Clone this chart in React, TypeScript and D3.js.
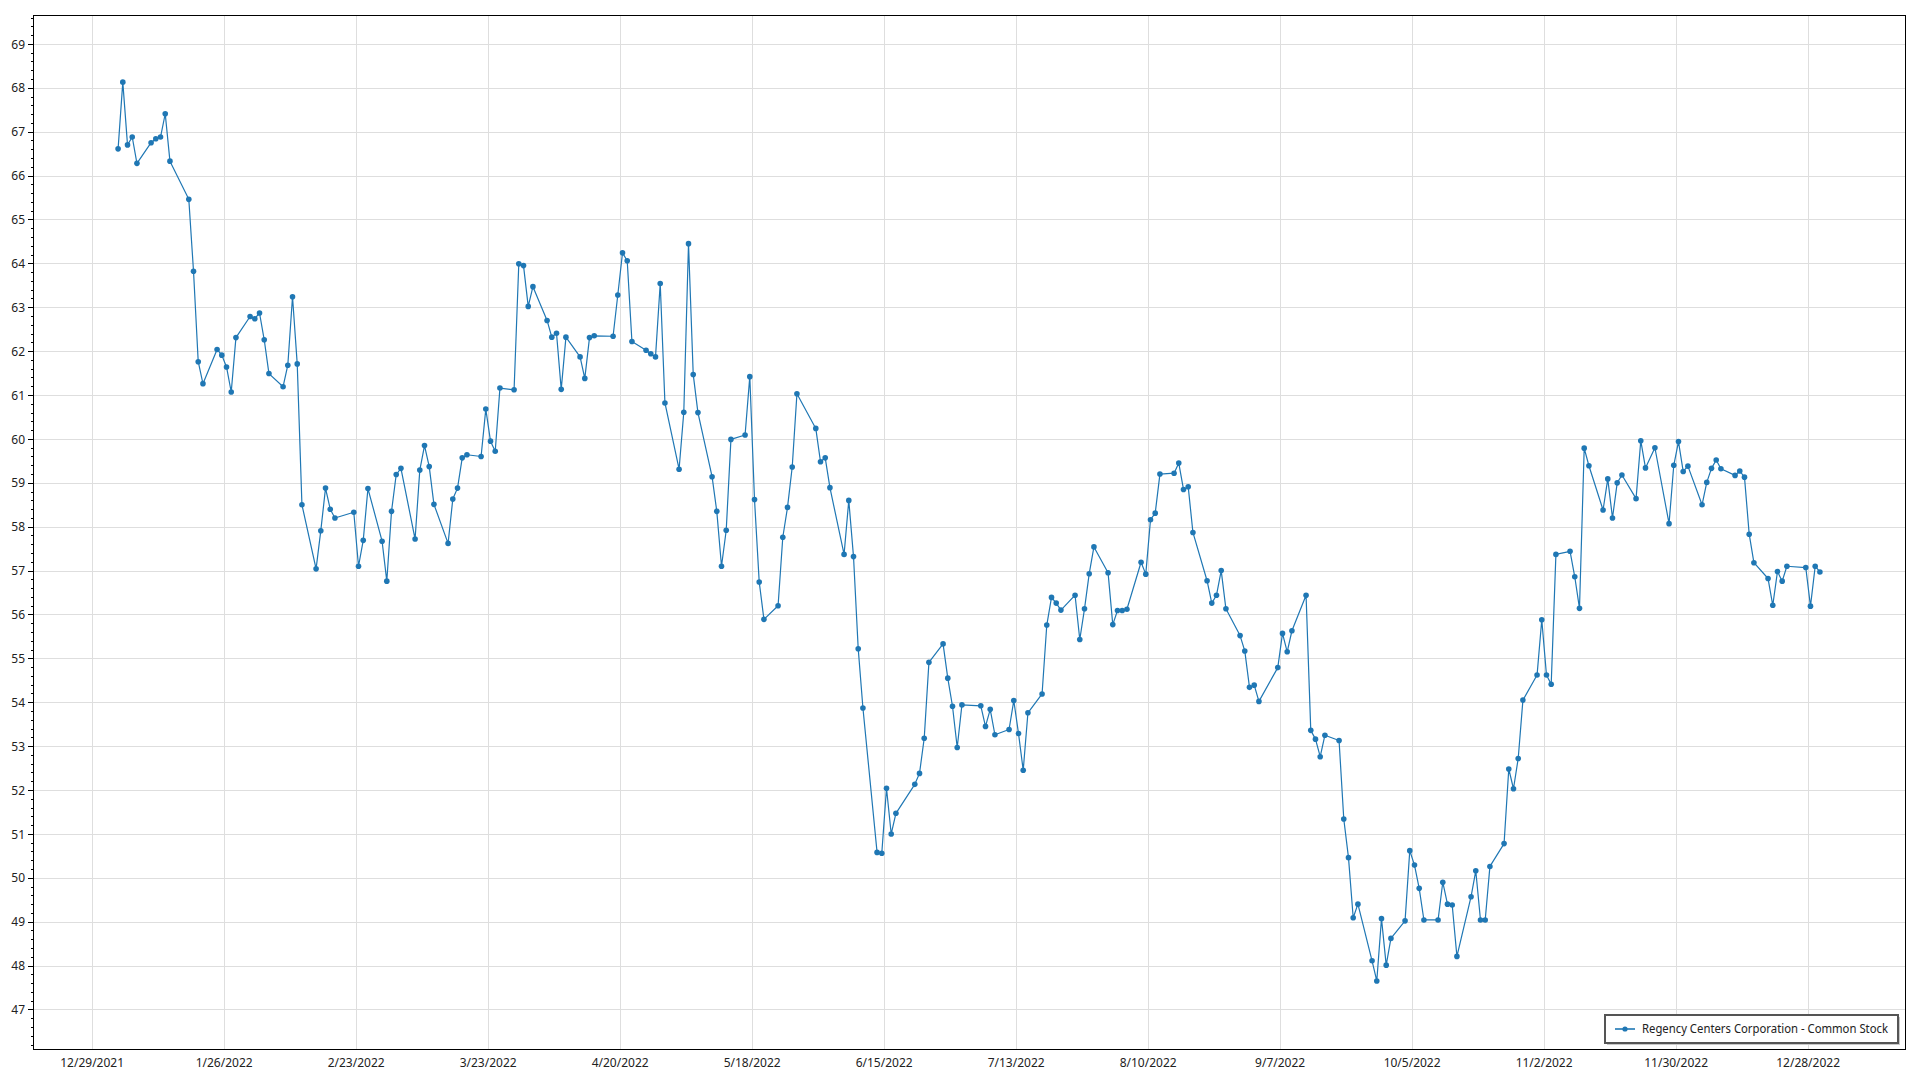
import React from 'react';
import * as d3 from 'd3';

// Trading days of 2022 (M/D) and the closing prices
const tradeDates = [
  // Jan
  '1/3','1/4','1/5','1/6','1/7','1/10','1/11','1/12','1/13','1/14','1/18','1/19','1/20','1/21','1/24','1/25','1/26','1/27','1/28','1/31',
  // Feb
  '2/1','2/2','2/3','2/4','2/7','2/8','2/9','2/10','2/11','2/14','2/15','2/16','2/17','2/18','2/22','2/23','2/24','2/25','2/28',
  // Mar
  '3/1','3/2','3/3','3/4','3/7','3/8','3/9','3/10','3/11','3/14','3/15','3/16','3/17','3/18','3/21','3/22','3/23','3/24','3/25','3/28','3/29','3/30','3/31',
  // Apr
  '4/1','4/4','4/5','4/6','4/7','4/8','4/11','4/12','4/13','4/14','4/18','4/19','4/20','4/21','4/22','4/25','4/26','4/27','4/28','4/29',
  // May
  '5/2','5/3','5/4','5/5','5/6','5/9','5/10','5/11','5/12','5/13','5/16','5/17','5/18','5/19','5/20','5/23','5/24','5/25','5/26','5/27','5/31',
  // Jun
  '6/1','6/2','6/3','6/6','6/7','6/8','6/9','6/10','6/13','6/14','6/15','6/16','6/17','6/21','6/22','6/23','6/24','6/27','6/28','6/29','6/30',
  // Jul
  '7/1','7/5','7/6','7/7','7/8','7/11','7/12','7/13','7/14','7/15','7/18','7/19','7/20','7/21','7/22','7/25','7/26','7/27','7/28','7/29',
  // Aug
  '8/1','8/2','8/3','8/4','8/5','8/8','8/9','8/10','8/11','8/12','8/15','8/16','8/17','8/18','8/19','8/22','8/23','8/24','8/25','8/26','8/29','8/30','8/31',
  // Sep
  '9/1','9/2','9/6','9/7','9/8','9/9','9/12','9/13','9/14','9/15','9/16','9/19','9/20','9/21','9/22','9/23','9/26','9/27','9/28','9/29','9/30',
  // Oct
  '10/3','10/4','10/5','10/6','10/7','10/10','10/11','10/12','10/13','10/14','10/17','10/18','10/19','10/20','10/21','10/24','10/25','10/26','10/27','10/28','10/31',
  // Nov
  '11/1','11/2','11/3','11/4','11/7','11/8','11/9','11/10','11/11','11/14','11/15','11/16','11/17','11/18','11/21','11/22','11/23','11/25','11/28','11/29','11/30',
  // Dec
  '12/1','12/2','12/5','12/6','12/7','12/8','12/9','12/12','12/13','12/14','12/15','12/16','12/19','12/20','12/21','12/22','12/23','12/27','12/28','12/29','12/30',
];

const closePrices = [
  // Jan
  66.62,68.14,66.71,66.89,66.29,66.76,66.85,66.89,67.42,66.34,65.47,63.83,61.77,61.27,62.05,61.92,61.65,61.08,62.32,62.80,
  // Feb
  62.75,62.88,62.27,61.50,61.20,61.69,63.25,61.72,58.51,57.05,57.92,58.89,58.41,58.21,58.34,57.11,57.70,58.88,57.68,
  // Mar
  56.77,58.36,59.20,59.34,57.73,59.30,59.86,59.38,58.52,57.63,58.64,58.89,59.58,59.65,59.61,60.69,59.96,59.73,61.17,61.13,64.00,63.96,63.03,
  // Apr
  63.48,62.71,62.33,62.42,61.14,62.33,61.88,61.39,62.32,62.36,62.35,63.29,64.25,64.07,62.23,62.03,61.95,61.88,63.55,60.83,
  // May
  59.32,60.62,64.46,61.48,60.61,59.15,58.36,57.11,57.93,60.00,60.10,61.43,58.63,56.75,55.90,56.21,57.77,58.45,59.37,61.04,60.25,
  // Jun
  59.49,59.58,58.90,57.38,58.61,57.33,55.23,53.88,50.59,50.57,52.05,51.01,51.48,52.14,52.39,53.19,54.92,55.34,54.56,53.92,52.98,
  // Jul
  53.95,53.93,53.46,53.85,53.27,53.39,54.05,53.30,52.46,53.77,54.20,55.77,56.40,56.27,56.11,56.45,55.44,56.14,56.94,57.55,
  // Aug
  56.96,55.78,56.10,56.10,56.13,57.20,56.93,58.17,58.32,59.21,59.23,59.46,58.86,58.92,57.88,56.78,56.27,56.45,57.01,56.14,55.53,55.18,54.35,
  // Sep
  54.40,54.03,54.80,55.58,55.16,55.64,56.45,53.37,53.17,52.77,53.26,53.14,51.35,50.47,49.10,49.41,48.12,47.66,49.08,48.02,48.63,
  // Oct
  49.03,50.63,50.30,49.77,49.05,49.05,49.91,49.41,49.39,48.22,49.58,50.17,49.05,49.05,50.27,50.79,52.49,52.04,52.73,54.06,54.63,
  // Nov
  55.89,54.63,54.42,57.38,57.45,56.87,56.15,59.80,59.40,58.39,59.10,58.21,59.01,59.19,58.65,59.97,59.35,59.81,58.08,59.41,59.95,
  // Dec
  59.27,59.39,58.51,59.02,59.34,59.53,59.33,59.18,59.28,59.14,57.84,57.19,56.83,56.22,56.99,56.77,57.11,57.08,56.20,57.11,56.98,
];

const dataYear = 2022;
const xTickLabels = [
  '12/29/2021','1/26/2022','2/23/2022','3/23/2022','4/20/2022','5/18/2022','6/15/2022',
  '7/13/2022','8/10/2022','9/7/2022','10/5/2022','11/2/2022','11/30/2022','12/28/2022',
];
const yTickValues = [47,48,49,50,51,52,53,54,55,56,57,58,59,60,61,62,63,64,65,66,67,68,69];
const yDomain = [46.11, 69.67];
const seriesName = 'Regency Centers Corporation - Common Stock';

const W = 1920;
const H = 1080;
const P = { left: 33, top: 15, right: 1905, bottom: 1049 };
const LINE = '#1f77b4';
const GRID = '#dedede';
const FONT = '"Segoe UI", "Noto Sans", "Open Sans", sans-serif';

const parseMD = d3.timeParse('%m/%d/%Y');
const parseTick = d3.timeParse('%m/%d/%Y');

export default function App() {
  const points = tradeDates.map((md, i) => {
    const d = parseMD(`${md}/${dataYear}`) as Date;
    return { date: d3.timeHour.offset(d, 12), value: closePrices[i] };
  });
  const first = points[0].date.getTime();
  const last = points[points.length - 1].date.getTime();
  const pad = (last - first) * 0.05;
  const x = d3.scaleTime().domain([new Date(first - pad), new Date(last + pad)]).range([P.left, P.right]);
  const y = d3.scaleLinear().domain(yDomain).range([P.bottom, P.top]);

  const xTicks = xTickLabels.map((s) => ({ label: s, date: parseTick(s) as Date }));
  const minorTicks: number[] = [];
  for (let v = Math.ceil(yDomain[0] * 5); v <= Math.floor(yDomain[1] * 5); v++) {
    if (v % 5 !== 0) minorTicks.push(v / 5);
  }

  const line = d3
    .line<{ date: Date; value: number }>()
    .x((d) => x(d.date))
    .y((d) => y(d.value));

  const legend = { x: 1605, y: 1015, w: 293, h: 28 };

  return (
    <svg
      width={W}
      height={H}
      style={{ position: 'absolute', left: 0, top: 0, background: '#fff' }}
      fontFamily={FONT}
    >
      <rect x={0} y={0} width={W} height={H} fill="#fff" />
      <defs>
        <clipPath id="plotclip">
          <rect x={P.left} y={P.top} width={P.right - P.left} height={P.bottom - P.top} />
        </clipPath>
      </defs>
      {/* gridlines */}
      <g shapeRendering="crispEdges">
        {yTickValues.map((v) => (
          <line key={'gy' + v} x1={P.left} x2={P.right} y1={y(v)} y2={y(v)} stroke={GRID} strokeWidth={1} />
        ))}
        {xTicks.map((t) => (
          <line key={'gx' + t.label} x1={x(t.date)} x2={x(t.date)} y1={P.top} y2={P.bottom} stroke={GRID} strokeWidth={1} />
        ))}
      </g>
      {/* series */}
      <g clipPath="url(#plotclip)">
        <path d={line(points) || ''} fill="none" stroke={LINE} strokeWidth={1.2} strokeLinejoin="round" />
        {points.map((p, i) => (
          <circle key={i} cx={x(p.date)} cy={y(p.value)} r={2.8} fill={LINE} />
        ))}
      </g>
      {/* frame */}
      <rect
        x={P.left}
        y={P.top}
        width={P.right - P.left}
        height={P.bottom - P.top}
        fill="none"
        stroke="#000"
        strokeWidth={1}
        shapeRendering="crispEdges"
      />
      {/* y axis ticks */}
      <g shapeRendering="crispEdges" stroke="#000" strokeWidth={1}>
        {yTickValues.map((v) => (
          <line key={'ty' + v} x1={P.left - 5} x2={P.left} y1={y(v)} y2={y(v)} />
        ))}
        {minorTicks.map((v) => (
          <line key={'my' + v} x1={P.left - 2.5} x2={P.left} y1={y(v)} y2={y(v)} />
        ))}
      </g>
      <g fontSize={12} fill="#222">
        {yTickValues.map((v) => (
          <text key={'ly' + v} x={P.left - 8} y={y(v)} dy="0.35em" textAnchor="end">
            {v}
          </text>
        ))}
        {xTicks.map((t) => (
          <text key={'lx' + t.label} x={x(t.date)} y={P.bottom + 18} textAnchor="middle">
            {t.label}
          </text>
        ))}
      </g>
      {/* legend */}
      <g>
        <rect x={legend.x + 2} y={legend.y + 2} width={legend.w} height={legend.h} fill="#c8c8c8" />
        <rect
          x={legend.x}
          y={legend.y}
          width={legend.w}
          height={legend.h}
          fill="#fff"
          stroke="#555"
          strokeWidth={1.2}
          shapeRendering="crispEdges"
        />
        <line x1={legend.x + 10} x2={legend.x + 30} y1={legend.y + 14} y2={legend.y + 14} stroke={LINE} strokeWidth={1.6} />
        <circle cx={legend.x + 20} cy={legend.y + 14} r={2.6} fill={LINE} />
        <text
          x={legend.x + 37}
          y={legend.y + 14}
          dy="0.35em"
          fontSize={12}
          fill="#222"
          textLength={246}
          lengthAdjust="spacingAndGlyphs"
        >
          {seriesName}
        </text>
      </g>
    </svg>
  );
}
